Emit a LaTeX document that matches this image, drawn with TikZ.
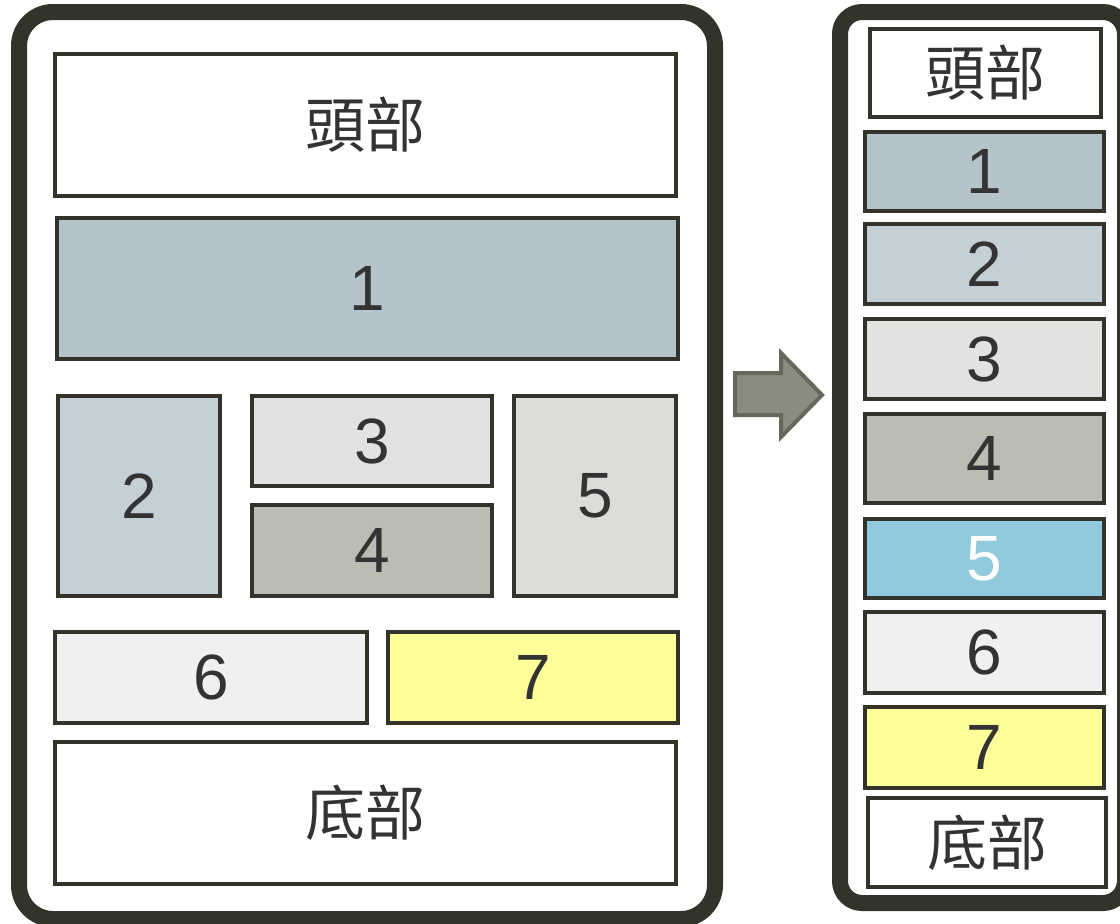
\documentclass[tikz,border=0pt]{standalone}
\usepackage{fontspec}
\setmainfont{Liberation Sans}
\newfontfamily\cjk{Noto Sans CJK TC}
\usepackage{xcolor}
\usetikzlibrary{positioning}

\definecolor{frame}{HTML}{33332B}
\definecolor{ink}{HTML}{333333}
\definecolor{cone}{HTML}{B4C4CA}
\definecolor{ctwo}{HTML}{C4D0D6}
\definecolor{cthree}{HTML}{E2E2E0}
\definecolor{cfour}{HTML}{BCBCB4}
\definecolor{cfive}{HTML}{DCDCD8}
\definecolor{cfiveb}{HTML}{90CADC}
\definecolor{csix}{HTML}{F0F0F0}
\definecolor{cseven}{HTML}{FFFF99}
\definecolor{arrowfill}{HTML}{8C8C7E}
\definecolor{arrowline}{HTML}{67675C}

\tikzset{
	blk/.style={draw=frame, line width=4pt, rectangle, inner sep=0pt,
		text=ink, font=\fontsize{64}{70}\selectfont},
	cjkblk/.style={blk, fill=white, font=\fontsize{60}{66}\selectfont\cjk},
}

\begin{document}
\begin{tikzpicture}[x=1pt,y=-1pt]
	\useasboundingbox (0,0) rectangle (1120,924);
	\fill[white] (0,0) rectangle (1120,924);
	%%%%% frames
	\draw[frame, line width=16pt, fill=white, rounded corners=34pt] (19,12) rectangle (715,919);
	\draw[frame, line width=16pt, fill=white, rounded corners=22pt] (840,12) rectangle (1125,903);
	%%%%% left page
	\node[cjkblk, minimum width=621pt, minimum height=142pt] (lhead) at (365.5,125) {頭部};
	\node[blk, fill=cone, minimum width=621pt, minimum height=141pt] (lone) at (367.5,288.5) {1};
	\node[blk, fill=ctwo, minimum width=162pt, minimum height=200pt] (ltwo) at (139,496) {2};
	\node[blk, fill=cthree, minimum width=240pt, minimum height=90pt] (lthree) at (372,441) {3};
	\node[blk, fill=cfour, minimum width=240pt, minimum height=91pt] (lfour) at (372,550.5) {4};
	\node[blk, fill=cfive, minimum width=162pt, minimum height=200pt] (lfive) at (595,496) {5};
	\node[blk, fill=csix, minimum width=312pt, minimum height=91pt] (lsix) at (211,677.5) {6};
	\node[blk, fill=cseven, minimum width=290pt, minimum height=91pt] (lseven) at (533,677.5) {7};
	\node[cjkblk, minimum width=621pt, minimum height=142pt] (lfoot) at (365.5,813) {底部};
	%%%%% arrow
	\draw[arrowline, fill=arrowfill, line width=4pt, line join=miter]
		(735,373) -- (781,373) -- (781,353) -- (822,395) -- (781,437) -- (781,415) -- (735,415) -- cycle;
	%%%%% right page
	\node[cjkblk, minimum width=231pt, minimum height=88pt] (rhead) at (985.5,73) {頭部};
	\node[blk, fill=cone, minimum width=239pt, minimum height=79pt] (rone) at (984.5,171.5) {1};
	\node[blk, fill=ctwo, minimum width=239pt, minimum height=80pt] (rtwo) at (984.5,264) {2};
	\node[blk, fill=cthree, minimum width=239pt, minimum height=80pt] (rthree) at (984.5,359) {3};
	\node[blk, fill=cfour, minimum width=239pt, minimum height=89pt] (rfour) at (984.5,458.5) {4};
	\node[blk, fill=cfiveb, text=white, minimum width=239pt, minimum height=79pt] (rfive) at (984.5,558.5) {5};
	\node[blk, fill=csix, minimum width=239pt, minimum height=81pt] (rsix) at (984.5,652.5) {6};
	\node[blk, fill=cseven, minimum width=239pt, minimum height=81pt] (rseven) at (984.5,747.5) {7};
	\node[cjkblk, minimum width=238pt, minimum height=89pt] (rfoot) at (987,842.5) {底部};
\end{tikzpicture}
\end{document}
